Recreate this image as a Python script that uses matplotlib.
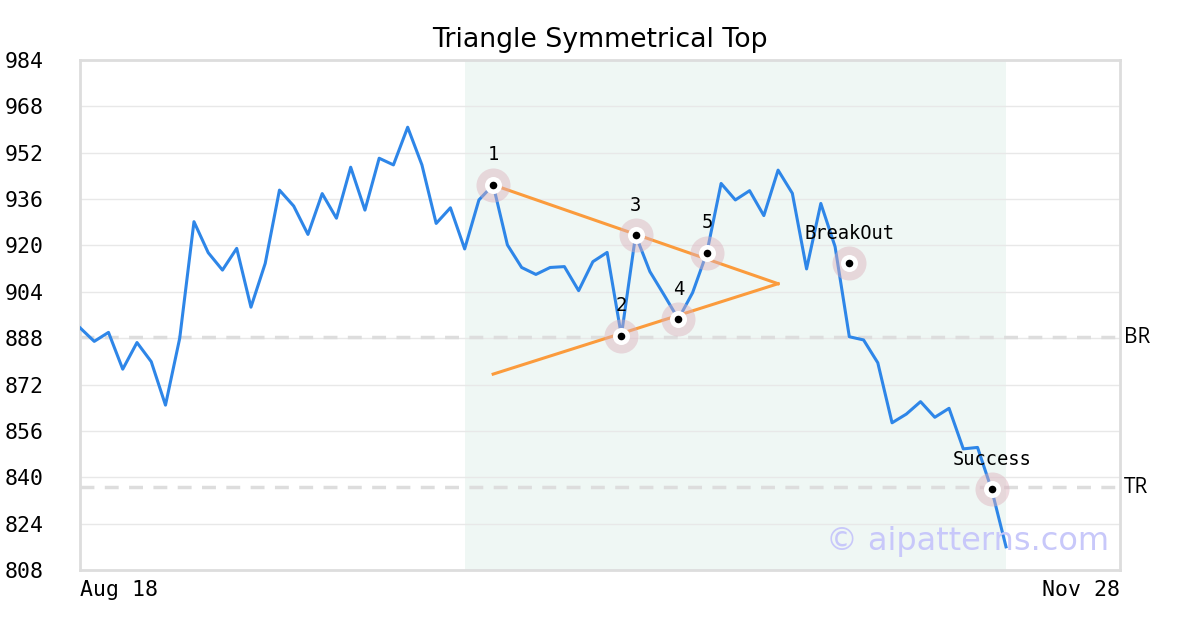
import matplotlib
matplotlib.use("Agg")
import matplotlib.pyplot as plt

# price series (one value per trading day)
prices = [891.6, 886.9, 890.0, 877.3, 886.5, 879.9, 864.9, 888.0, 928.2, 917.5,
          911.5, 919.0, 898.7, 913.8, 939.1, 933.6, 923.8, 937.9, 929.4, 947.0,
          932.2, 950.1, 947.8, 960.8, 947.8, 927.6, 933.0, 918.8, 935.7, 940.9,
          920.2, 912.4, 910.0, 912.4, 912.7, 904.4, 914.4, 917.6, 888.9, 923.6,
          911.0, 902.9, 894.6, 903.7, 917.5, 941.4, 935.7, 938.9, 930.3, 946.0,
          938.0, 911.9, 934.5, 919.6, 888.5, 887.4, 879.5, 858.8, 861.8, 866.1,
          860.7, 863.8, 849.8, 850.3, 835.6, 816.0]

# pattern points
pt_idx = [29, 38, 39, 42, 44, 54, 64]
pt_val = [940.9, 888.9, 923.6, 894.6, 917.5, 913.9, 835.9]
pt_lbl = ["1", "2", "3", "4", "5", "BreakOut", "Success"]

# triangle lines
upper_x = [29, 49]
upper_y = [940.9, 906.8]
lower_x = [29, 49]
lower_y = [875.6, 906.8]

br_level = 888.4
tr_level = 836.5
span = (27, 65)
x_labels = ["Aug 18", "Nov 28"]
y_ticks = list(range(808, 985, 16))

mono = "DejaVu Sans Mono"

fig = plt.figure(figsize=(12, 6.3), dpi=100)
ax = fig.add_axes([80 / 1200, 60 / 630, 1040 / 1200, 510 / 630])

ax.axvspan(span[0], span[1], color="#eff7f4", zorder=0, lw=0)
for v in y_ticks:
    ax.axhline(v, color="#e8e8e8", lw=1, zorder=1)

ax.axhline(br_level, color="#dddddd", lw=2.5, ls=(0, (4, 3)), zorder=2)
ax.axhline(tr_level, color="#dddddd", lw=2.5, ls=(0, (4, 3)), zorder=2)

ax.plot(range(len(prices)), prices, color="#2e86e8", lw=2.2, zorder=3)
ax.plot(upper_x, upper_y, color="#fb9b3c", lw=2.2, zorder=4)
ax.plot(lower_x, lower_y, color="#fb9b3c", lw=2.2, zorder=4)

ax.scatter(pt_idx, pt_val, s=600, color="#dcb0bc", alpha=0.45, lw=0, zorder=5)
ax.scatter(pt_idx, pt_val, s=150, color="white", lw=0, zorder=6)
ax.scatter(pt_idx, pt_val, s=30, color="black", lw=0, zorder=7)
for x, y, t in zip(pt_idx, pt_val, pt_lbl):
    ax.annotate(t, (x, y), xytext=(0, 30), textcoords="offset pixels",
                ha="center", va="center", fontsize=13.5, family=mono, zorder=8)

ax.set_xlim(0, 73)
ax.set_ylim(808, 984)
ax.set_yticks(y_ticks)
ax.set_yticklabels([str(v) for v in y_ticks], family=mono, fontsize=15.5)
ax.set_xticks([0, 73])
ax.set_xticklabels(x_labels, family=mono, fontsize=15.5)
ax.get_xticklabels()[0].set_ha("left")
ax.get_xticklabels()[1].set_ha("right")
ax.tick_params(length=0, pad=7)
ax.tick_params(axis="y", pad=54)
for lbl in ax.get_yticklabels():
    lbl.set_ha("left")
for s in ax.spines.values():
    s.set_color("#dddddd")
    s.set_linewidth(2)

ax.text(1.004, br_level, "BR", transform=ax.get_yaxis_transform(),
        va="center", ha="left", fontsize=15, family="Open Sans")
ax.text(1.004, tr_level, "TR", transform=ax.get_yaxis_transform(),
        va="center", ha="left", fontsize=15, family="Open Sans")

ax.text(0.99, 0.055, "\u00a9 aipatterns.com", transform=ax.transAxes,
        ha="right", va="center", fontsize=23, color="#c8c8fa", zorder=9)

fig.suptitle("Triangle Symmetrical Top", y=1 - 40 / 630, va="center", fontsize=19.3)

fig.savefig("out.png", dpi=100)
